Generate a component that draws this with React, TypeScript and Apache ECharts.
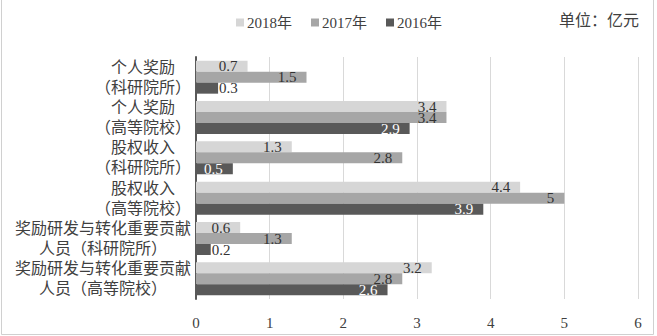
import React, { useEffect, useRef } from "react";
import * as echarts from "echarts";

const categories = [
  "个人奖励\n（科研院所）",
  "个人奖励\n（高等院校）",
  "股权收入\n（科研院所）",
  "股权收入\n（高等院校）",
  "奖励研发与转化重要贡献\n人员（科研院所）",
  "奖励研发与转化重要贡献\n人员（高等院校）",
];
const seriesNames = ["2018年", "2017年", "2016年"];
const values2018 = [0.7, 3.4, 1.3, 4.4, 0.6, 3.2];
const values2017 = [1.5, 3.4, 2.8, 5, 1.3, 2.8];
const values2016 = [0.3, 2.9, 0.5, 3.9, 0.2, 2.6];
const xTicks = [0, 1, 2, 3, 4, 5, 6];
const unitText = "单位：亿元";

const FONT = "'Liberation Serif', 'Noto Sans CJK SC', serif";
const colors = ["#d6d6d6", "#a6a6a6", "#595959"];
const labelColors = ["#333333", "#333333", "#ffffff"];

export default function App() {
  const ref = useRef<HTMLDivElement>(null);
  useEffect(() => {
    if (!ref.current) return;
    const chart = echarts.init(ref.current, undefined, { renderer: "svg" });
    const CAT_FS = 16;
    const rich: Record<string, any> = {};
    categories.forEach((c) => {
      const m = Math.max(...c.split("\n").map((l) => l.length));
      rich["w" + m] = {
        width: m * CAT_FS,
        align: "center",
        fontSize: CAT_FS,
        lineHeight: 20,
        color: "#404040",
        fontFamily: FONT,
      };
    });
    const allValues = [values2018, values2017, values2016];
    const series = allValues.map((vals, si) => ({
      name: seriesNames[si],
      type: "bar",
      barWidth: 11,
      barGap: "0%",
      itemStyle: { color: colors[si] },
      label: {
        show: true,
        position: "insideRight",
        distance: 10,
        color: labelColors[si],
        fontSize: 15,
        fontFamily: FONT,
      },
      data: vals.map((v) =>
        v < 0.4
          ? { value: v, label: { position: "right", distance: 1, color: "#333333" } }
          : { value: v }
      ),
    }));
    chart.setOption({
      animation: false,
      textStyle: { fontFamily: FONT },
      legend: {
        data: seriesNames,
        left: 231,
        top: 10,
        icon: "rect",
        itemWidth: 8,
        itemHeight: 8,
        itemGap: 19,
        textStyle: { fontSize: 15, color: "#404040", fontFamily: FONT, padding: [0, 0, 0, -2] },
      },
      graphic: [
        {
          type: "text",
          right: 18,
          top: 12,
          style: { text: unitText, fontSize: 16, fill: "#404040", fontFamily: FONT },
        },
        {
          type: "rect",
          shape: { x: 1.5, y: -5, width: 652, height: 339.5 },
          style: { fill: "none", stroke: "#d0d0d0", lineWidth: 1 },
          silent: true,
        },
      ],
      grid: { left: 196, right: 19, top: 57, bottom: 37, containLabel: false },
      xAxis: {
        type: "value",
        min: xTicks[0],
        max: xTicks[xTicks.length - 1],
        interval: 1,
        axisLine: { show: false },
        axisTick: { show: false },
        splitLine: { lineStyle: { color: "#d9d9d9", width: 1 } },
        axisLabel: { fontSize: 15, color: "#404040", margin: 16, fontFamily: FONT },
      },
      yAxis: {
        type: "category",
        inverse: true,
        data: categories,
        axisTick: { show: false },
        axisLine: { lineStyle: { color: "#595959", width: 2 } },
        axisLabel: {
          margin: 5,
          formatter: (value: string) => {
            const lines = value.split("\n");
            const m = Math.max(...lines.map((l) => l.length));
            return lines.map((l) => `{w${m}|${l}}`).join("\n");
          },
          rich,
        },
      },
      series,
    });
    return () => chart.dispose();
  }, []);
  return (
    <div
      ref={ref}
      style={{ position: "absolute", left: 0, top: 0, width: 657, height: 336, background: "#fff" }}
    />
  );
}
